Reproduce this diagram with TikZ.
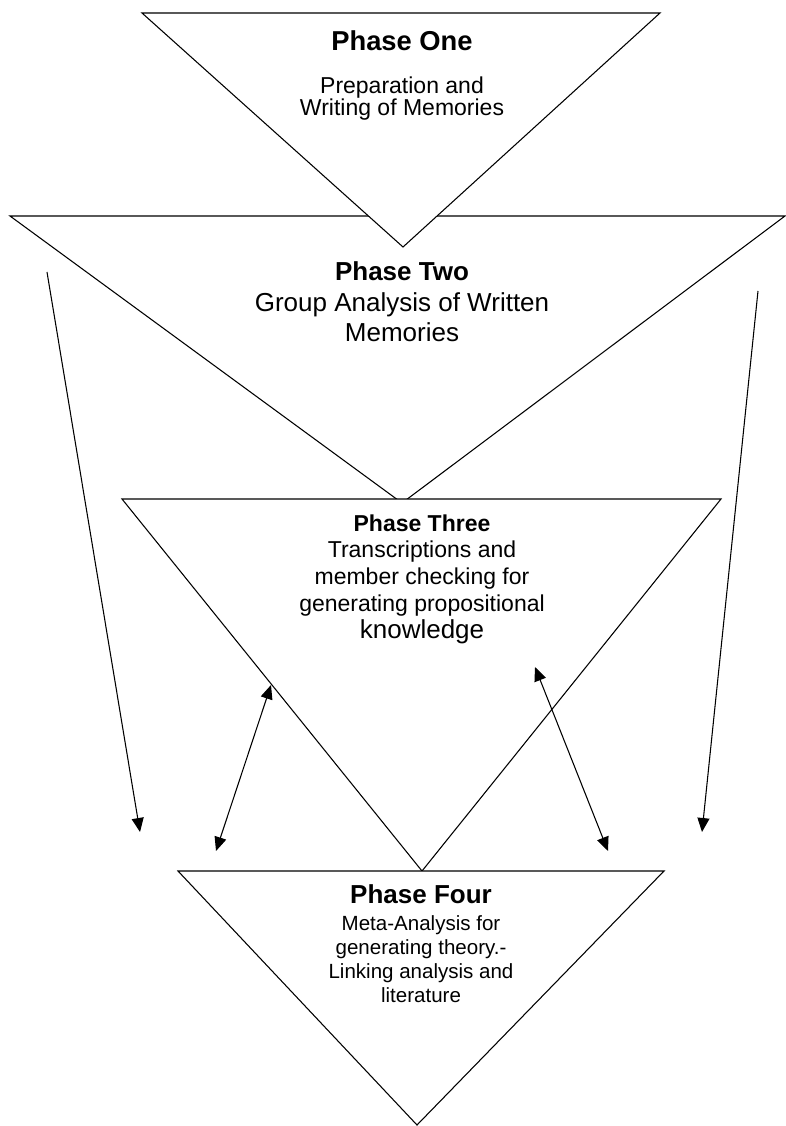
\documentclass[tikz,border=0pt]{standalone}
\usepackage{fontspec}
\setmainfont{Liberation Sans}
\usetikzlibrary{arrows.meta}

\begin{document}
\begin{tikzpicture}[x=0.75pt,y=0.75pt,yscale=-1,xscale=1,
  phase/.style={draw, line width=0.8pt, fill=white},
  title/.style={anchor=base, inner sep=0pt},
  body/.style={anchor=north, inner sep=0pt, align=center},
  link/.style={line width=0.8pt, -{Triangle[length=10.5pt,width=9pt]}},
  twoway/.style={line width=0.8pt, {Triangle[length=10.5pt,width=9pt]}-{Triangle[length=10.5pt,width=9pt]}}]
%set diagram left start at 0, and has height of 1126
\useasboundingbox (0,0) rectangle (785,1126);

% the four phases, drawn back to front
\draw [phase] (10,216) -- (785,216) -- (402,503) -- cycle;
\draw [phase] (142,13) -- (660,13) -- (403,247) -- cycle;
\draw [phase] (122,499) -- (721,499) -- (422,871) -- cycle;
\draw [phase] (178,871) -- (664,871) -- (417,1125) -- cycle;

\node [title, font={\bfseries\fontsize{20.5}{22}\selectfont}] (one) at (402,51) {Phase One};
\node [body, font={\fontsize{17.25}{16.1}\selectfont}] (onetext) at (402,77) {Preparation and\\Writing of Memories};

\node [title, font={\bfseries\fontsize{19.5}{22}\selectfont}] (two) at (402,281) {Phase Two};
\node [body, font={\fontsize{19.5}{22.5}\selectfont}] (twotext) at (402,292) {Group Analysis of Written\\Memories};

\node [title, font={\bfseries\fontsize{17.25}{20}\selectfont}] (three) at (422,531) {Phase Three};
\node [body, font={\fontsize{17.25}{20.25}\selectfont}] (threetext) at (422,541) {Transcriptions and\\member checking for\\generating propositional\\{\fontsize{19.5}{20.25}\selectfont knowledge}};

\node [title, font={\bfseries\fontsize{19.5}{22}\selectfont}] (four) at (421,903) {Phase Four};
\node [body, font={\fontsize{15.4}{18}\selectfont}] (fourtext) at (421,915) {Meta-Analysis for\\generating theory.-\\Linking analysis and\\literature};

% arrows between the phases
\coordinate (leftfrom) at (47,272);
\coordinate (leftto) at (140,832);
\coordinate (rightfrom) at (758,291);
\coordinate (rightto) at (702,832);
\coordinate (lowleft) at (216,851);
\coordinate (upleft) at (271,685);
\coordinate (upright) at (535,667);
\coordinate (lowright) at (608,851);

\draw [link] (leftfrom) -- (leftto);
\draw [link] (rightfrom) -- (rightto);
\draw [twoway] (lowleft) -- (upleft);
\draw [twoway] (upright) -- (lowright);

\end{tikzpicture}
\end{document}
